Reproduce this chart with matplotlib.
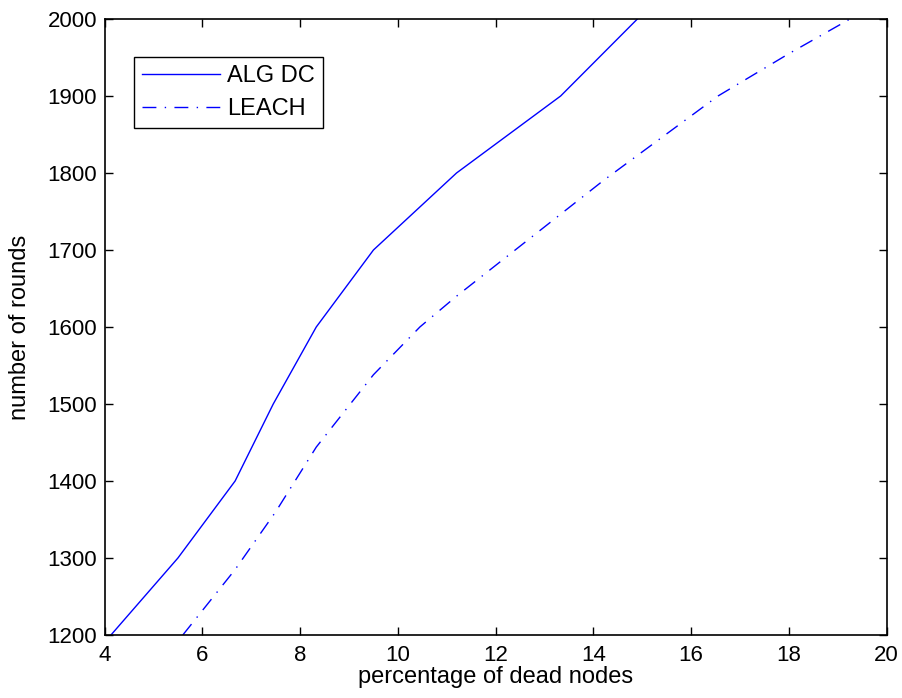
import matplotlib
matplotlib.use("Agg")
import matplotlib.pyplot as plt

# data
alg_x = [4.13, 5.5, 6.67, 7.45, 8.33, 9.5, 11.2, 13.33, 14.9]
alg_y = [1200, 1300, 1400, 1500, 1600, 1700, 1800, 1900, 2000]

leach_x = [5.6, 6.67, 7.5, 8.33, 9.5, 10.45, 11.2, 12.5, 14.2, 16.55, 18.0, 19.25]
leach_y = [1200, 1285, 1360, 1444, 1538, 1600, 1640, 1705, 1790, 1900, 1955, 2000]

x_ticks = [4, 6, 8, 10, 12, 14, 16, 18, 20]
y_ticks = [1200, 1300, 1400, 1500, 1600, 1700, 1800, 1900, 2000]

plt.rcParams["font.family"] = ["Liberation Sans", "DejaVu Sans"]

fig = plt.figure(figsize=(9.02, 6.98), dpi=100)
ax = fig.add_axes([0.116, 0.0903, 0.867, 0.8825])

ax.plot(alg_x, alg_y, color="#0000ff", lw=1.0, label="ALG DC")
ax.plot(leach_x, leach_y, color="#0000ff", lw=1.0, dashes=(10, 6, 1, 6), label="LEACH")

ax.set_xlim(4, 20)
ax.set_ylim(1200, 2000)
ax.set_xticks(x_ticks)
ax.set_yticks(y_ticks)
ax.tick_params(direction="in", length=6, width=1, top=True, right=True,
               labelsize=16)
ax.tick_params(axis="x", pad=7.5)
ax.tick_params(axis="y", pad=5.5)
for s in ax.spines.values():
    s.set_linewidth(1.2)

ax.set_xlabel("percentage of dead nodes", fontsize=17, labelpad=0)
ax.set_ylabel("number of rounds", fontsize=17, labelpad=12)

leg = ax.legend(loc="upper left", bbox_to_anchor=(0.0375, 0.938), fontsize=17,
                fancybox=False, edgecolor="black", framealpha=1,
                handlelength=3.3, handletextpad=0.3, borderpad=0.35,
                labelspacing=0.45, borderaxespad=0)
leg.get_frame().set_linewidth(1.0)

fig.savefig("out.png", dpi=100)
